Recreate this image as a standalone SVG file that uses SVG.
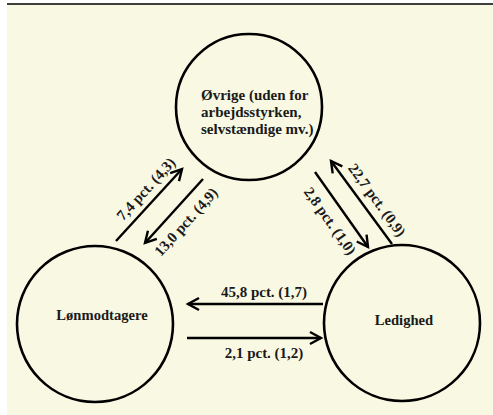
<svg xmlns="http://www.w3.org/2000/svg" width="493" height="415" viewBox="0 0 493 415">
<style>
.node{fill:none;stroke:#000;stroke-width:2.6}
.edge{stroke:#000;stroke-width:2.4;fill:none}
.lbl{font-family:"Liberation Serif","Times New Roman",serif;font-weight:bold;font-size:15px;fill:#1a1a1a}
.nlbl{font-family:"Liberation Serif","Times New Roman",serif;font-weight:bold;font-size:14.6px;fill:#1a1a1a}
.tlbl{font-family:"Liberation Serif","Times New Roman",serif;font-weight:bold;font-size:15px;fill:#1a1a1a}
</style>
<defs>
<marker id="arr" markerUnits="userSpaceOnUse" markerWidth="16" markerHeight="16" viewBox="0 0 16 16" refX="13" refY="8" orient="auto">
<path d="M2,2 L13,8 L2,14" fill="none" stroke="#000" stroke-width="2.4" stroke-linejoin="miter"/>
</marker>
</defs>
<rect x="0" y="0" width="493" height="415" fill="#ffffff"/>
<rect x="7" y="4" width="486" height="411" fill="#f9f8e2"/>
<line x1="7" y1="4" x2="493" y2="4" stroke="#000" stroke-width="1.5"/>
<g id="node-ovrige">
<circle class="node" cx="249" cy="107" r="73"/>
<text class="tlbl" x="201" y="100">Øvrige (uden for</text>
<text class="tlbl" x="201" y="117">arbejdsstyrken,</text>
<text class="tlbl" x="201" y="134">selvstændige mv.)</text>
</g>
<g id="node-lonmodtagere">
<circle class="node" cx="95" cy="324" r="78"/>
<text class="nlbl" x="102" y="320" text-anchor="middle">Lønmodtagere</text>
</g>
<g id="node-ledighed">
<circle class="node" cx="402" cy="323" r="78"/>
<text class="nlbl" x="404" y="325" text-anchor="middle">Ledighed</text>
</g>
<g id="connectors">
<line class="edge" x1="116" y1="241" x2="182" y2="169" marker-end="url(#arr)"/>
<line class="edge" x1="203" y1="179" x2="145" y2="243" marker-end="url(#arr)"/>
<line class="edge" x1="315" y1="172" x2="368" y2="247" marker-end="url(#arr)"/>
<line class="edge" x1="392" y1="244" x2="331" y2="161" marker-end="url(#arr)"/>
<line class="edge" x1="323" y1="304" x2="188" y2="304" marker-end="url(#arr)"/>
<line class="edge" x1="187" y1="338" x2="321" y2="338" marker-end="url(#arr)"/>
<text class="lbl" transform="translate(146,189) rotate(-47.5)" text-anchor="middle" dominant-baseline="central">7,4 pct. (4,3)</text>
<text class="lbl" transform="translate(186,222) rotate(-47.8)" text-anchor="middle" dominant-baseline="central">13,0 pct. (4,9)</text>
<text class="lbl" transform="translate(330,221) rotate(54.8)" text-anchor="middle" dominant-baseline="central">2,8 pct. (1,0)</text>
<text class="lbl" transform="translate(377,200) rotate(53.7)" text-anchor="middle" dominant-baseline="central">22,7 pct. (0,9)</text>
<text class="lbl" x="264" y="297" text-anchor="middle">45,8 pct. (1,7)</text>
<text class="lbl" x="264" y="358" text-anchor="middle">2,1 pct. (1,2)</text>
</g>
</svg>
